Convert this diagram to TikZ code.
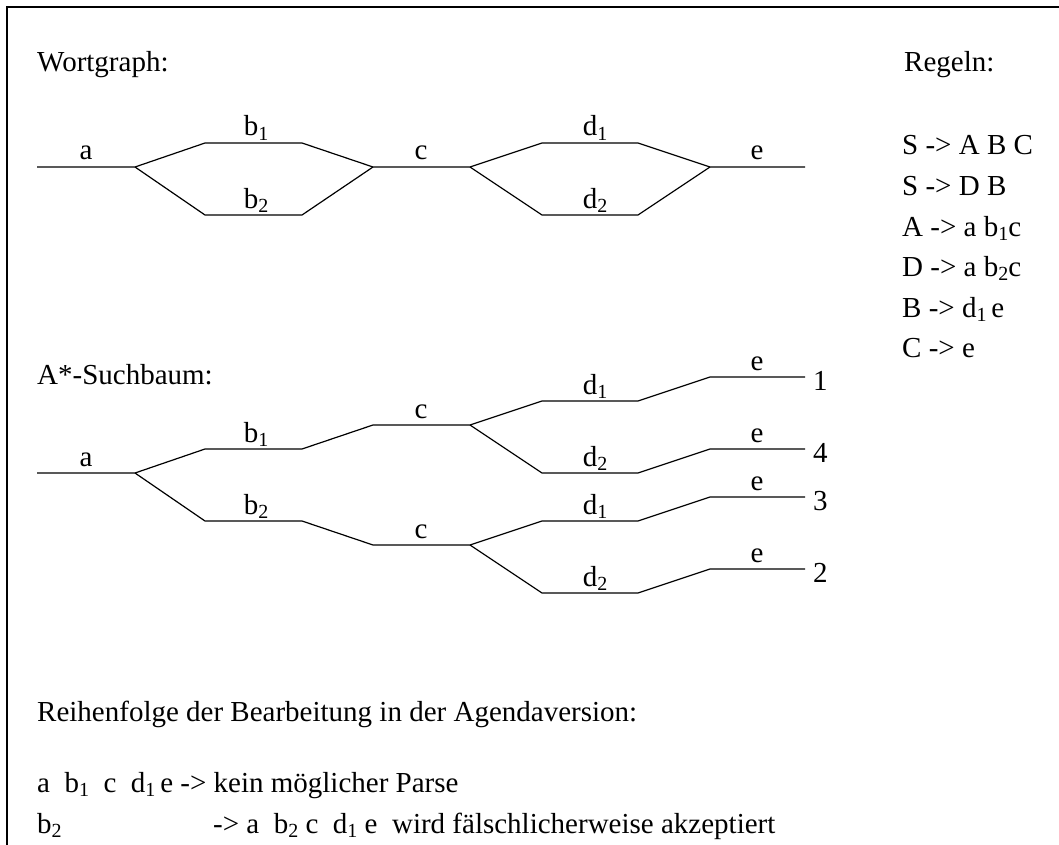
\documentclass[tikz,border=0pt]{standalone}
\usepackage{fontspec}
\setmainfont{Liberation Serif}
\newcommand{\sbs}[1]{\raisebox{-4.5pt}{\fontsize{20}{20}\selectfont #1}}
\begin{document}
\begin{tikzpicture}[x=1pt,y=-1pt,
  lbl/.style={anchor=base, inner sep=0pt, font=\fontsize{29}{34}\selectfont},
  txt/.style={anchor=base west, inner sep=0pt, font=\fontsize{29}{34}\selectfont},
  edge/.style={line width=1.2pt, line join=miter},
  frame/.style={line width=2.2pt}]
\useasboundingbox (0,0) rectangle (1059,845);
% frame
\coordinate (fa) at (7,845);
\coordinate (fb) at (7,7);
\coordinate (fc) at (1059,7);
\draw[frame] (fa) -- (fb) -- (fc);

% headings
\node[txt] (hw) at (37,72) {Wortgraph:};
\node[txt] (hr) at (904,72) {Regeln:};
\node[txt] (ha) at (37,384) {A*-Suchbaum:};

% rules
\node[txt] (r1) at (902,155) {S -> A B C};
\node[txt] (r2) at (902,195) {S -> D B};
\node[txt] (r3) at (902,236) {A -> a b\sbs{1}c};
\node[txt] (r4) at (902,276) {D -> a b\sbs{2}c};
\node[txt] (r5) at (902,317) {B -> d\sbs{1}\,e};
\node[txt] (r6) at (902,357) {C -> e};

% Wortgraph
\coordinate (w0) at (37,167);
\coordinate (w1) at (135,167);
\coordinate (wb1a) at (205,143);
\coordinate (wb1b) at (302,143);
\coordinate (w2) at (373,167);
\coordinate (wb2a) at (205,215);
\coordinate (wb2b) at (302,215);
\coordinate (w3) at (470,167);
\coordinate (wd1a) at (542,143);
\coordinate (wd1b) at (638,143);
\coordinate (w4) at (710,167);
\coordinate (wd2a) at (542,215);
\coordinate (wd2b) at (638,215);
\coordinate (w5) at (805,167);
\draw[edge] (w0) -- (w1) -- (wb1a) -- (wb1b) -- (w2) -- (w3) -- (wd1a) -- (wd1b) -- (w4) -- (w5);
\draw[edge] (w1) -- (wb2a) -- (wb2b) -- (w2);
\draw[edge] (w3) -- (wd2a) -- (wd2b) -- (w4);
\node[lbl] (la) at (86,160) {a};
\node[lbl] (lb1) at (256,136) {b\sbs{1}};
\node[lbl] (lb2) at (256,208) {b\sbs{2}};
\node[lbl] (lc) at (421,160) {c};
\node[lbl] (ld1) at (595,136) {d\sbs{1}};
\node[lbl] (ld2) at (595,208) {d\sbs{2}};
\node[lbl] (le) at (757,160) {e};

% A*-Suchbaum
\coordinate (t0) at (37,473);
\coordinate (t1) at (135,473);
\coordinate (tb1a) at (205,449);
\coordinate (tb1b) at (302,449);
\coordinate (tc1a) at (373,425);
\coordinate (tc1b) at (470,425);
\coordinate (tb2a) at (205,521);
\coordinate (tb2b) at (302,521);
\coordinate (tc2a) at (373,545);
\coordinate (tc2b) at (470,545);
\coordinate (u1a) at (542,401);
\coordinate (u1b) at (638,401);
\coordinate (u1c) at (710,377);
\coordinate (u1d) at (805,377);
\coordinate (u2a) at (542,473);
\coordinate (u2b) at (638,473);
\coordinate (u2c) at (710,449);
\coordinate (u2d) at (805,449);
\coordinate (l1a) at (542,521);
\coordinate (l1b) at (638,521);
\coordinate (l1c) at (710,497);
\coordinate (l1d) at (805,497);
\coordinate (l2a) at (542,593);
\coordinate (l2b) at (638,593);
\coordinate (l2c) at (710,569);
\coordinate (l2d) at (805,569);
\draw[edge] (t0) -- (t1) -- (tb1a) -- (tb1b) -- (tc1a) -- (tc1b) -- (u1a) -- (u1b) -- (u1c) -- (u1d);
\draw[edge] (tc1b) -- (u2a) -- (u2b) -- (u2c) -- (u2d);
\draw[edge] (t1) -- (tb2a) -- (tb2b) -- (tc2a) -- (tc2b) -- (l1a) -- (l1b) -- (l1c) -- (l1d);
\draw[edge] (tc2b) -- (l2a) -- (l2b) -- (l2c) -- (l2d);
\node[lbl] (sa) at (86,466) {a};
\node[lbl] (sb1) at (256,442) {b\sbs{1}};
\node[lbl] (sb2) at (256,514) {b\sbs{2}};
\node[lbl] (sc1) at (421,418) {c};
\node[lbl] (sc2) at (421,538) {c};
\node[lbl] (sd11) at (595,394) {d\sbs{1}};
\node[lbl] (sd12) at (595,466) {d\sbs{2}};
\node[lbl] (sd21) at (595,514) {d\sbs{1}};
\node[lbl] (sd22) at (595,586) {d\sbs{2}};
\node[lbl] (se1) at (757,370) {e};
\node[lbl] (se2) at (757,442) {e};
\node[lbl] (se3) at (757,490) {e};
\node[lbl] (se4) at (757,562) {e};
\node[txt] (n1) at (813,390) {1};
\node[txt] (n4) at (813,462) {4};
\node[txt] (n3) at (813,510) {3};
\node[txt] (n2) at (813,582) {2};

% bottom text
\node[txt] (bt) at (37,721) {Reihenfolge der Bearbeitung in der Agendaversion:};
\node[txt] (bl1) at (37,792) {a\ \ b\sbs{1}\ \ c\ \ d\sbs{1}\,e -> kein möglicher Parse};
\node[txt] (bl2a) at (37,833) {b\sbs{2}};
\node[txt] (bl2b) at (213,833) {-> a \ b\sbs{2} c \ d\sbs{1} e \ wird fälschlicherweise akzeptiert};
\end{tikzpicture}
\end{document}
